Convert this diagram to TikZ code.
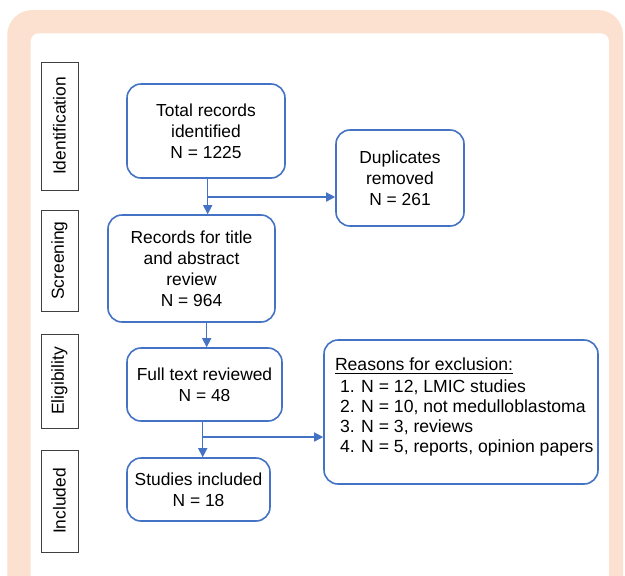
\documentclass[tikz,border=0pt]{standalone}
\usepackage{fontspec}
\setmainfont{Liberation Sans}
\usepackage{tikz}
\usetikzlibrary{arrows.meta, positioning, calc}
\definecolor{peach}{RGB}{252,224,208}
\definecolor{flowblue}{RGB}{68,114,196}

\begin{document}
\begin{tikzpicture}[x=0.5pt, y=-0.5pt,
    font=\fontsize{8.7}{10.5}\selectfont,
    stagebox/.style={draw=black!75, line width=0.5pt, rotate=90, minimum height=18.5pt, inner sep=0pt},
    flowbox/.style={draw=flowblue, line width=0.8pt, rounded corners=7pt, align=center, inner sep=0pt},
    flow/.style={draw=flowblue, line width=0.7pt, -{Triangle[length=4.5pt,width=4.5pt]}}]
      \useasboundingbox (0,0) rectangle (625,575);
      % Frame
      \begin{scope}
        \clip (0,0) rectangle (625,575);
        \fill[peach, rounded corners=12.5pt] (7.3,10) rectangle (623,640);
        \fill[white, rounded corners=4pt] (30.7,33.3) rectangle (609,640);
      \end{scope}
      % Stage labels
      \node[stagebox, minimum width=64pt] (lid) at (59.5,126) {Identification};
      \node[stagebox, minimum width=50.5pt] (lscr) at (59.5,260.5) {Screening};
      \node[stagebox, minimum width=47pt] (lelig) at (59.5,381) {Eligibility};
      \node[stagebox, minimum width=51pt] (lincl) at (59.5,501) {Included};
      % Flow boxes
      \node[flowbox, minimum width=79pt, minimum height=47pt] (total) at (206,131) {Total records\\identified\\N = 1225};
      \node[flowbox, minimum width=64pt, minimum height=48pt] (dup) at (400,178) {Duplicates\\removed\\N = 261};
      \node[flowbox, minimum width=83.5pt, minimum height=53.5pt] (scr) at (191.5,268.5) {Records for title\\and abstract\\review\\N = 964};
      \node[flowbox, minimum width=77.5pt, minimum height=36.5pt] (full) at (204.5,384.5) {Full text reviewed\\N = 48};
      \node[flowbox, minimum width=71.5pt, minimum height=31.5pt] (stud) at (198.5,489.5) {Studies included\\N = 18};
      \node[flowbox, minimum width=137pt, minimum height=72pt] (reasons) at (461,412)
        {\parbox[c][72pt][t]{134pt}{\fontsize{8.8}{10}\selectfont\vspace*{9pt}%
          \hspace*{4pt}\underline{Reasons for exclusion:}\\[1pt]
          \hspace*{6.5pt}1. N = 12, LMIC studies\\
          \hspace*{6.5pt}2. N = 10, not medulloblastoma\\
          \hspace*{6.5pt}3. N = 3, reviews\\
          \hspace*{6.5pt}4. N = 5, reports, opinion papers}};
      % Connectors
      \coordinate (split1) at (207.7,197);
      \coordinate (split2) at (202.7,437);
      \coordinate (mid) at (206.7,335);
      \draw[flow] (split1 |- total.south) -- (split1 |- scr.north);
      \draw[flow] (split1) -- (split1 -| dup.west);
      \draw[flow] (mid |- scr.south) -- (mid |- full.north);
      \draw[flow] (split2 |- full.south) -- (split2 |- stud.north);
      \draw[flow] (split2) -- (split2 -| reasons.west);
    \end{tikzpicture}
\end{document}
